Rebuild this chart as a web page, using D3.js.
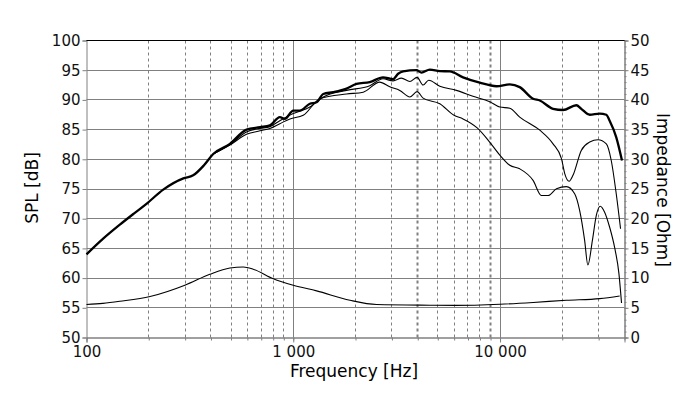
<!DOCTYPE html>
<html>
<head>
<meta charset="utf-8" />
<title>SPL / Impedance</title>
<script src="https://d3js.org/d3.v7.min.js" charset="utf-8"></script>
<style>
  body { margin: 0; background: #fff; }
  text { font-family: "DejaVu Sans", Verdana, sans-serif; }
</style>
</head>
<body>
<svg id="chart" width="700" height="399"></svg>
<script>
// frequency response, on axis (thick)
var freqMain = [100, 120, 145, 170, 195, 235, 294, 328, 370, 410, 494, 594, 690, 771, 861, 910, 1000, 1075, 1203, 1297, 1397, 1560, 1810, 2023, 2345, 2716, 3040, 3215, 3400, 3946, 4170, 4575, 5115, 5715, 6625, 7980, 9610, 11150, 12450, 14450, 15570, 18050, 20170, 23400, 24720, 27150, 30340, 32670, 33900, 36500, 38900];
var splMain = [64.0, 66.6, 69.0, 70.9, 72.5, 74.9, 76.8, 77.3, 79.0, 80.9, 82.6, 85.0, 85.4, 85.7, 87.1, 86.8, 88.2, 88.2, 89.35, 89.6, 91.0, 91.3, 91.9, 92.7, 93.0, 93.8, 93.5, 94.4, 94.8, 95.0, 94.6, 95.1, 94.85, 94.8, 93.8, 92.9, 92.3, 92.6, 92.15, 90.2, 89.9, 88.5, 88.3, 89.1, 88.5, 87.5, 87.7, 87.5, 86.5, 83.7, 79.8];

// off axis 1 (thin)
var freqMid = [410, 494, 594, 690, 771, 861, 1000, 1203, 1397, 1810, 2345, 2716, 3040, 3335, 3664, 3972, 4246, 4520, 5115, 6150, 7396, 8913, 9980, 11150, 12450, 15570, 18050, 19820, 20560, 21580, 22540, 24720, 27150, 29790, 32670, 34510, 36480, 38280];
var splMid = [80.9, 82.5, 84.6, 85.2, 85.5, 86.5, 87.7, 88.8, 90.5, 91.6, 92.4, 93.55, 93.2, 93.66, 93.1, 93.8, 92.5, 93.3, 92.3, 91.6, 90.6, 89.7, 88.8, 88.6, 87.1, 84.9, 82.6, 80.1, 77.6, 76.3, 77.3, 81.5, 82.9, 83.3, 82.6, 79.8, 74.2, 68.3];

// off axis 2 (thin)
var freqLow = [410, 494, 594, 690, 771, 861, 964, 1117, 1345, 1810, 2180, 2620, 2930, 3275, 3664, 3972, 4246, 5115, 5990, 6625, 7780, 8913, 9980, 11150, 12450, 14450, 15850, 17090, 18750, 20940, 22960, 24270, 25650, 26600, 27990, 29240, 30550, 32060, 33880, 35810, 37580, 38700];
var splLow = [80.9, 82.4, 84.2, 84.8, 85.2, 86.0, 86.8, 87.4, 90.2, 91.0, 91.3, 93.0, 92.2, 91.6, 90.5, 91.4, 90.3, 89.35, 87.4, 86.8, 85.25, 82.9, 80.7, 79.0, 78.4, 76.45, 73.9, 73.9, 75.05, 75.4, 74.2, 71.4, 66.4, 62.2, 66.4, 70.6, 72.1, 71.1, 68.6, 65.2, 60.8, 55.8];

// impedance (right axis)
var freqImp = [100, 120, 145, 203, 299, 395, 494, 573, 640, 800, 1000, 1297, 1880, 2530, 4570, 6050, 10000, 14450, 20940, 30340, 37900];
var ohmImp = [5.55, 5.75, 6.1, 6.9, 8.8, 10.65, 11.7, 11.87, 11.5, 9.9, 8.8, 7.85, 6.27, 5.55, 5.43, 5.4, 5.6, 5.9, 6.27, 6.55, 7.0];

var gridFreq = [200, 300, 400, 500, 600, 700, 800, 900, 1000, 2000, 3000, 4000, 5000, 6000, 7000, 8000, 9000, 10000, 20000, 30000];
var solidGrid = [1000, 10000];
var heavyGrid = [4000, 9000];
var labelFreq = [100, 1000, 10000];
var splTicks = d3.range(50, 101, 5);
var ohmTicks = d3.range(0, 51, 5);
var ohmMinor = d3.range(0, 51, 1);

var svg = d3.select("#chart"),
    plotLeft = 86.5, plotRight = 624.5, plotTop = 40.5, plotBottom = 337.5,
    gray = "#808080";

var x = d3.scaleLog().domain([100, 40000]).range([plotLeft, plotRight]),
    y = d3.scaleLinear().domain([50, 100]).range([plotBottom, plotTop]),
    yR = d3.scaleLinear().domain([0, 50]).range([plotBottom, plotTop]);

function px(v) { return Math.round(v - 0.5) + 0.5; }

// horizontal grid
svg.append("g").selectAll("line")
    .data(splTicks.filter(function (d) { return d > 50; }))
    .enter().append("line")
    .attr("x1", plotLeft).attr("x2", plotRight)
    .attr("y1", function (d) { return px(y(d)); })
    .attr("y2", function (d) { return px(y(d)); })
    .attr("stroke", function (d) { return d === 100 ? "#000" : gray; })
    .attr("stroke-width", 1);

// vertical grid
svg.append("g").selectAll("line")
    .data(gridFreq)
    .enter().append("line")
    .attr("x1", function (d) { return px(x(d)); })
    .attr("x2", function (d) { return px(x(d)); })
    .attr("y1", plotTop).attr("y2", plotBottom)
    .attr("stroke", gray)
    .attr("stroke-width", function (d) { return heavyGrid.indexOf(d) >= 0 ? 2 : 1; })
    .attr("stroke-dasharray", function (d) { return solidGrid.indexOf(d) >= 0 ? null : "3,3"; });

// axes
var axisLeft = svg.append("g")
    .attr("transform", "translate(" + plotLeft + ",0)")
    .call(d3.axisLeft(y).tickValues(splTicks).tickSize(4).tickPadding(2));

var axisRightMinor = svg.append("g")
    .attr("transform", "translate(" + plotRight + ",0)")
    .call(d3.axisRight(yR).tickValues(ohmMinor).tickSize(2).tickFormat(""));

var axisRight = svg.append("g")
    .attr("transform", "translate(" + plotRight + ",0)")
    .call(d3.axisRight(yR).tickValues(ohmTicks).tickSize(4).tickPadding(2));

var axisBottomMinor = svg.append("g")
    .attr("transform", "translate(0," + plotBottom + ")")
    .call(d3.axisBottom(x).tickValues(gridFreq).tickSize(3).tickFormat(""));

var axisBottom = svg.append("g")
    .attr("transform", "translate(0," + plotBottom + ")")
    .call(d3.axisBottom(x).tickValues(labelFreq).tickSize(5)
        .tickFormat(function (d) { return d3.format(",")(d).replace(/,/g, " "); }));
axisBottom.selectAll("text").attr("y", 9);

[axisLeft, axisRightMinor, axisRight, axisBottomMinor, axisBottom].forEach(function (g) {
    g.selectAll(".domain").attr("stroke", gray);
    g.selectAll(".tick line").attr("stroke", gray);
    g.selectAll("text").attr("font-size", 15)
        .attr("font-family", "'DejaVu Sans', Verdana, sans-serif")
        .attr("fill", "#111");
});

// top border
svg.append("line")
    .attr("x1", plotLeft).attr("x2", plotRight).attr("y1", plotTop).attr("y2", plotTop)
    .attr("stroke", "#000");

// curves
function lineFor(scaleY) {
    return d3.line()
        .x(function (d) { return x(d[0]); })
        .y(function (d) { return scaleY(d[1]); })
        .curve(d3.curveMonotoneX);
}

var curves = [
    { f: freqImp, v: ohmImp, s: yR, w: 1.1 },
    { f: freqLow, v: splLow, s: y, w: 1.1 },
    { f: freqMid, v: splMid, s: y, w: 1.1 },
    { f: freqMain, v: splMain, s: y, w: 2.3 }
];

curves.forEach(function (c) {
    svg.append("path")
        .datum(d3.zip(c.f, c.v))
        .attr("fill", "none")
        .attr("stroke", "#000")
        .attr("stroke-width", c.w)
        .attr("stroke-linejoin", "round")
        .attr("d", lineFor(c.s));
});

// titles
svg.append("text")
    .attr("x", 354).attr("y", 377)
    .attr("text-anchor", "middle")
    .attr("font-size", 17)
    .text("Frequency [Hz]");

svg.append("text")
    .attr("transform", "translate(38,188) rotate(-90)")
    .attr("text-anchor", "middle")
    .attr("font-size", 17)
    .text("SPL [dB]");

svg.append("text")
    .attr("transform", "translate(657,190) rotate(90)")
    .attr("text-anchor", "middle")
    .attr("font-size", 17)
    .text("Impedance [Ohm]");
</script>
</body>
</html>
